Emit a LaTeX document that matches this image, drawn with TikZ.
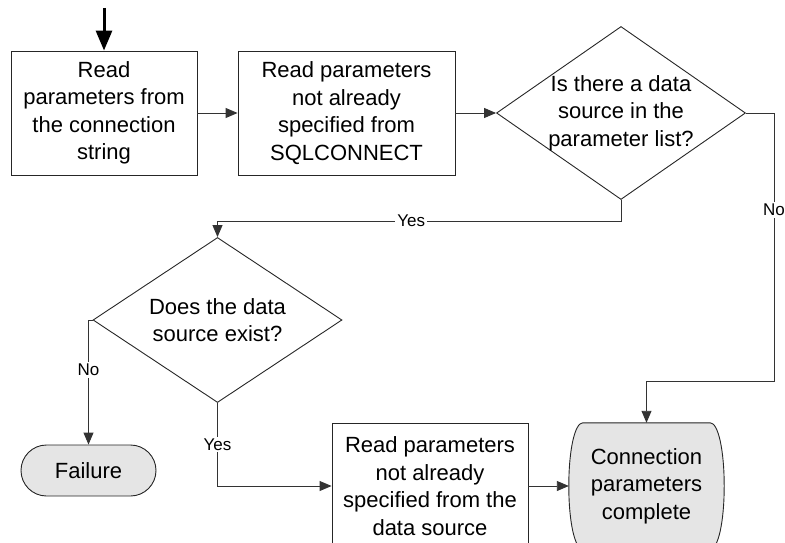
\documentclass[tikz,border=0pt]{standalone}
\usepackage{fontspec}
\setmainfont{Liberation Sans}
\usetikzlibrary{shapes.geometric,shapes.misc,arrows.meta,backgrounds}

\begin{document}
\begin{tikzpicture}
  [x=1pt, y=-1pt,
   every node/.style={font=\fontsize{22}{27.5}\selectfont, align=center},
   procbox/.style={draw=black!85, line width=0.9pt, inner sep=0},
   decision/.style={diamond, draw=black!85, line width=0.9pt, inner sep=-12pt,
                    minimum width=249pt, minimum height=165pt},
   terminal/.style={rounded rectangle, draw=black!85, line width=0.9pt,
                    fill=gray!20, inner sep=0},
   outline/.style={draw=black!85, line width=0.9pt, fill=gray!20},
   flow/.style={draw=black!80, line width=0.9pt, -{Triangle[length=12pt,width=10pt]}},
   answer/.style={font=\fontsize{17}{19}\selectfont, fill=white, inner sep=2pt}]

  \useasboundingbox (0,0) rectangle (785,543);

  % top row
  \node[procbox, minimum width=186pt, minimum height=124pt] (readconn) at (104,113)
    {Read\\parameters from\\the connection\\string};
  \node[procbox, minimum width=217pt, minimum height=124pt] (readsql) at (346.5,113)
    {Read parameters\\not already\\specified from\\SQLCONNECT};
  \node[decision] (hasdsn) at (621,113) {Is there a data\\source in the\\parameter list?};

  % second decision
  \node[decision] (dsnexists) at (217.5,320) {Does the data\\source exist?};

  % bottom row
  \node[terminal, minimum width=135pt, minimum height=51pt] (failure) at (88.5,470.5) {Failure};
  \node[procbox, minimum width=196pt, minimum height=126pt] (readdsn) at (430,486)
    {Read parameters\\not already\\specified from the\\data source};
  \node[inner sep=0, minimum width=155pt, minimum height=126pt]
    (complete) at (646.5,486) {Connection\\parameters\\complete};

  % outline of the end node, bulging sides
  \begin{scope}[on background layer]
    \draw[outline] ([xshift=14pt]complete.north west) -- ([xshift=-14pt]complete.north east)
      .. controls ([xshift=-6pt]complete.north east) and ([yshift=36pt]complete.east) .. (complete.east)
      .. controls ([yshift=-36pt]complete.east) and ([xshift=-6pt]complete.south east) .. ([xshift=-14pt]complete.south east)
      -- ([xshift=14pt]complete.south west)
      .. controls ([xshift=6pt]complete.south west) and ([yshift=-36pt]complete.west) .. (complete.west)
      .. controls ([yshift=36pt]complete.west) and ([xshift=6pt]complete.north west) .. cycle;
  \end{scope}

  % entry
  \coordinate (entry) at (104,8);
  \draw[draw=black, line width=3pt, -{Triangle[length=20pt,width=16pt]}] (entry) -- (readconn.north);

  % connectors
  \draw[flow] (readconn.east) -- (readsql.west);
  \draw[flow] (readsql.east) -- (hasdsn.west);
  \draw[flow] (hasdsn.south) -- ++(0,21) -| node[answer, pos=0.26] {Yes} (dsnexists.north);
  \draw[flow] (hasdsn.east) -- ++(28,0) |- node[answer, pos=0.18] {No}
    ([yshift=41pt]complete.north) -- (complete.north);
  \draw[flow] (dsnexists.west) -| node[answer, pos=0.7] {No} (failure.north);
  \draw[flow] (dsnexists.south) |- node[answer, pos=0.25] {Yes} (readdsn.west);
  \draw[flow] (readdsn.east) -- (complete.west);

\end{tikzpicture}
\end{document}
